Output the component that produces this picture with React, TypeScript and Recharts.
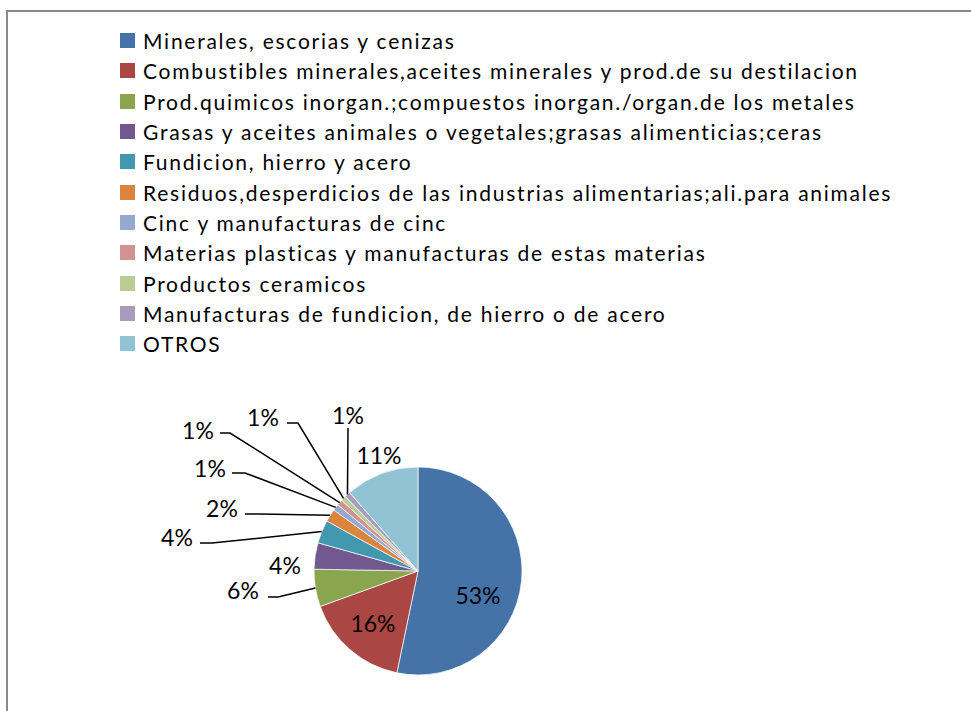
import React from "react";
import { Cell, Pie, PieChart } from "recharts";

const categories = [
  "Minerales, escorias y cenizas",
  "Combustibles minerales,aceites minerales y prod.de su destilacion",
  "Prod.quimicos inorgan.;compuestos inorgan./organ.de los metales",
  "Grasas y aceites animales o vegetales;grasas alimenticias;ceras",
  "Fundicion, hierro y acero",
  "Residuos,desperdicios de las industrias alimentarias;ali.para animales",
  "Cinc y manufacturas de cinc",
  "Materias plasticas y manufacturas de estas materias",
  "Productos ceramicos",
  "Manufacturas de fundicion, de hierro o de acero",
  "OTROS",
];

const shares = [53.2, 16.2, 5.8, 4.1, 3.6, 2.0, 1.0, 0.9, 0.8, 0.9, 11.4];

const colors = [
  "#4572A7", "#AA4643", "#89A54E", "#71588F", "#4198AF", "#DB843D",
  "#93A9CF", "#D19392", "#B9CD96", "#A99BBD", "#92C3D4",
];

const data = categories.map((name, i) => ({ name, value: shares[i] }));

// label placement relative to the pie centre (Excel manual layout)
const labelOffsets: [number, number][] = [
  [60, 24], [-45, 52], [-175, 19], [-133, -6], [-241, -34], [-196, -63],
  [-208, -103], [-220, -141], [-155, -154], [-70, -156], [-39, -116],
];
// leader lines: [elbowX, elbowY, endX, endY] relative to centre
const leaders: ([number, number, number, number] | null)[] = [
  null, null, [-140, 26, -150, 26], null, [-206, -28, -218, -28], [-158, -57, -173, -57],
  [-173, -98, -186, -98], [-188, -138, -198, -138], [-120, -148, -131, -148], [-70, -143, -70, -143], null,
];

const FONT = "Lato, 'Open Sans', sans-serif";
const RAD = Math.PI / 180;

function renderLabel(props: any) {
  const { cx, cy, midAngle, outerRadius, index, value } = props;
  const [dx, dy] = labelOffsets[index];
  const ld = leaders[index];
  let line = null;
  if (ld) {
    const sx = cx + outerRadius * Math.cos(-midAngle * RAD);
    const sy = cy + outerRadius * Math.sin(-midAngle * RAD);
    line = (
      <polyline
        points={`${sx},${sy} ${cx + ld[0]},${cy + ld[1]} ${cx + ld[2]},${cy + ld[3]}`}
        fill="none"
        stroke="#000"
        strokeWidth={1.5}
      />
    );
  }
  return (
    <g key={`lbl-${index}`}>
      {line}
      <text
        x={cx + dx}
        y={cy + dy}
        textAnchor="middle"
        dominantBaseline="central"
        fill="#000"
        style={{ fontFamily: FONT, fontSize: 23 }}
      >
        {`${Math.round(value)}%`}
      </text>
    </g>
  );
}

function ChartLegend() {
  return (
    <div
      style={{
        position: "absolute",
        left: 120,
        top: 25.5,
        fontFamily: FONT,
        fontSize: 21,
        letterSpacing: 1.75,
        color: "#000",
      }}
    >
      {categories.map((name, i) => (
        <div key={name} style={{ display: "flex", alignItems: "center", height: 30.3, whiteSpace: "nowrap" }}>
          <span style={{ width: 15, height: 15, background: colors[i], marginRight: 8, flex: "none" }} />
          <span>{name}</span>
        </div>
      ))}
    </div>
  );
}

export default function App() {
  return (
    <div style={{ position: "fixed", left: 0, top: 0, width: 971, height: 711, overflow: "hidden", background: "#fff" }}>
      <div
        style={{
          position: "absolute",
          left: 6,
          top: 10,
          width: 1000,
          height: 760,
          border: "2px solid #8a8a8a",
        }}
      />
      <div style={{ position: "absolute", left: 0, top: 0 }}>
        <PieChart width={971} height={711} margin={{ top: 0, right: 0, bottom: 0, left: 0 }}>
          <Pie
            data={data}
            dataKey="value"
            nameKey="name"
            cx={418}
            cy={571}
            outerRadius={104}
            startAngle={90}
            endAngle={-270}
            stroke="#fff"
            strokeWidth={0.7}
            label={renderLabel}
            labelLine={false}
            isAnimationActive={false}
          >
            {data.map((d, i) => (
              <Cell key={d.name} fill={colors[i]} />
            ))}
          </Pie>
        </PieChart>
      </div>
      <ChartLegend />
    </div>
  );
}
